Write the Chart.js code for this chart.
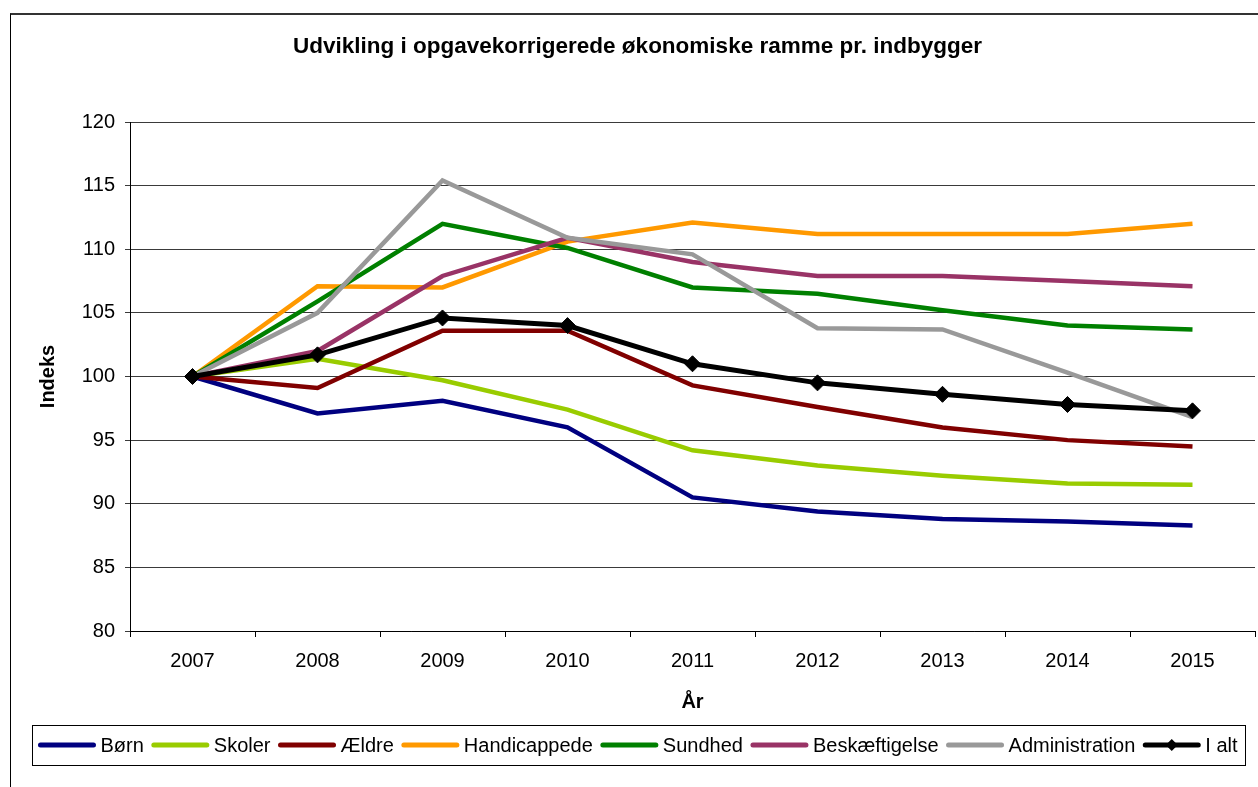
<!DOCTYPE html>
<html>
<head>
<meta charset="utf-8">
<title>Udvikling i opgavekorrigerede økonomiske ramme pr. indbygger</title>
<script src="https://cdn.jsdelivr.net/npm/chart.js@4.4.1/dist/chart.umd.min.js"></script>
<style>
  html, body { margin: 0; padding: 0; background: #fff; }
  body { width: 1258px; height: 787px; position: relative; overflow: hidden; }
  #frame {
    position: absolute; left: 10px; top: 13px; width: 1260px; height: 790px;
    border-left: 1px solid #000; border-top: 2px solid #333;
  }
  #wrap { position: absolute; left: 0; top: 0; width: 1258px; height: 787px; }
</style>
</head>
<body>
<div id="frame"></div>
<div id="wrap"><canvas id="rammeChart" width="1258" height="787"></canvas></div>
<script>
// Data
const years = ['2007', '2008', '2009', '2010', '2011', '2012', '2013', '2014', '2015'];

const born = [100, 97.1, 98.1, 96.0, 90.5, 89.4, 88.8, 88.6, 88.3];
const skoler = [100, 101.4, 99.7, 97.4, 94.2, 93.0, 92.2, 91.6, 91.5];
const aeldre = [100, 99.1, 103.6, 103.6, 99.3, 97.6, 96.0, 95.0, 94.5];
const handicappede = [100, 107.1, 107.0, 110.6, 112.1, 111.2, 111.2, 111.2, 112.0];
const sundhed = [100, 105.9, 112.0, 110.1, 107.0, 106.5, 105.2, 104.0, 103.7];
const beskaeftigelse = [100, 102.0, 107.9, 110.9, 109.0, 107.9, 107.9, 107.5, 107.1];
const administration = [100, 105.0, 115.4, 110.9, 109.6, 103.8, 103.7, 100.3, 96.8];
const iAlt = [100, 101.7, 104.6, 104.0, 101.0, 99.5, 98.6, 97.8, 97.3];

const yTicks = [80, 85, 90, 95, 100, 105, 110, 115, 120];

const seriesNames = ['Børn', 'Skoler', 'Ældre', 'Handicappede', 'Sundhed', 'Beskæftigelse', 'Administration', 'I alt'];
const seriesValues = [born, skoler, aeldre, handicappede, sundhed, beskaeftigelse, administration, iAlt];
const seriesColors = ['#000080', '#99CC00', '#800000', '#FF9900', '#008000', '#993366', '#999999', '#000000'];

const FONT = "Arial, 'Liberation Sans', sans-serif";

// legend drawn inside a framed box, like the original spreadsheet chart
const boxedLegend = {
  id: 'boxedLegend',
  afterDraw(chart) {
    const ctx = chart.ctx;
    ctx.save();
    ctx.font = '20px ' + FONT;
    const lineW = 57, gapText = 5, gapItem = 8;
    const widths = chart.data.datasets.map(ds => ctx.measureText(ds.label).width);
    let total = 0;
    widths.forEach((w, i) => { total += lineW + gapText + w + (i < widths.length - 1 ? gapItem : 0); });
    const cx = 638;
    let x = cx - total / 2;
    const top = 725, bottom = 765, cy = 745;

    ctx.strokeStyle = '#000';
    ctx.lineWidth = 1;
    ctx.strokeRect(Math.round(x - 6) + 0.5, top + 0.5, Math.round(total + 14), bottom - top);

    chart.data.datasets.forEach((ds, i) => {
      ctx.strokeStyle = ds.borderColor;
      ctx.lineWidth = 5;
      ctx.lineCap = 'round';
      ctx.beginPath();
      ctx.moveTo(x + 2, cy);
      ctx.lineTo(x + lineW - 2, cy);
      ctx.stroke();
      if (ds.pointStyle === 'rectRot') {
        const mx = x + lineW / 2;
        ctx.fillStyle = ds.borderColor;
        ctx.beginPath();
        ctx.moveTo(mx, cy - 6);
        ctx.lineTo(mx + 6, cy);
        ctx.lineTo(mx, cy + 6);
        ctx.lineTo(mx - 6, cy);
        ctx.closePath();
        ctx.fill();
      }
      ctx.fillStyle = '#000';
      ctx.textBaseline = 'middle';
      ctx.textAlign = 'left';
      ctx.fillText(ds.label, x + lineW + gapText, cy + 1);
      x += lineW + gapText + widths[i] + gapItem;
    });
    ctx.restore();
  }
};

const ctx = document.getElementById('rammeChart').getContext('2d');

const datasets = seriesNames.map((name, i) => ({
  label: name,
  data: seriesValues[i],
  borderColor: seriesColors[i],
  backgroundColor: seriesColors[i],
  borderWidth: name === 'I alt' ? 5 : 4.5,
  fill: false,
  tension: 0,
  pointStyle: name === 'I alt' ? 'rectRot' : 'circle',
  pointRadius: name === 'I alt' ? 8 : 0,
  pointBorderWidth: 1,
  order: seriesNames.length - i
}));

let rammeChart = new Chart(ctx, {
  type: 'line',
  data: { labels: years, datasets: datasets },
  plugins: [boxedLegend],
  options: {
    responsive: false,
    animation: false,
    layout: { autoPadding: false, padding: { left: 20, right: 3, top: 0, bottom: 73 } },
    plugins: {
      legend: { display: false },
      tooltip: { enabled: false },
      title: {
        display: true,
        text: 'Udvikling i opgavekorrigerede økonomiske ramme pr. indbygger',
        color: '#000',
        font: { family: FONT, size: 22.5, weight: 'bold' },
        padding: { top: 33.5, bottom: 61.5 }
      }
    },
    scales: {
      x: {
        offset: true,
        afterFit(scale) { scale.height = 83; scale.paddingLeft = 0; scale.paddingRight = 0; },
        border: { display: true, color: '#000', width: 1 },
        grid: { offset: true, drawOnChartArea: false, drawTicks: true, tickLength: 6, color: '#000' },
        ticks: { color: '#000', font: { family: FONT, size: 20 }, padding: 12, maxRotation: 0 },
        title: {
          display: true, text: 'År', color: '#000',
          font: { family: FONT, size: 20, weight: 'bold' },
          padding: { top: 0, bottom: 0 }
        }
      },
      y: {
        min: 80,
        max: 120,
        afterFit(scale) { scale.width = 110; },
        afterBuildTicks(scale) { scale.ticks = yTicks.map(v => ({ value: v })); },
        border: { display: true, color: '#000', width: 1 },
        grid: { color: '#3a3a3a', lineWidth: 1, drawTicks: true, tickLength: 5 },
        ticks: { color: '#000', font: { family: FONT, size: 20 }, padding: 10 },
        title: {
          display: true, text: 'Indeks', color: '#000',
          font: { family: FONT, size: 20, weight: 'bold' },
          padding: { top: 16, bottom: 0 }
        }
      }
    }
  }
});
</script>
</body>
</html>
